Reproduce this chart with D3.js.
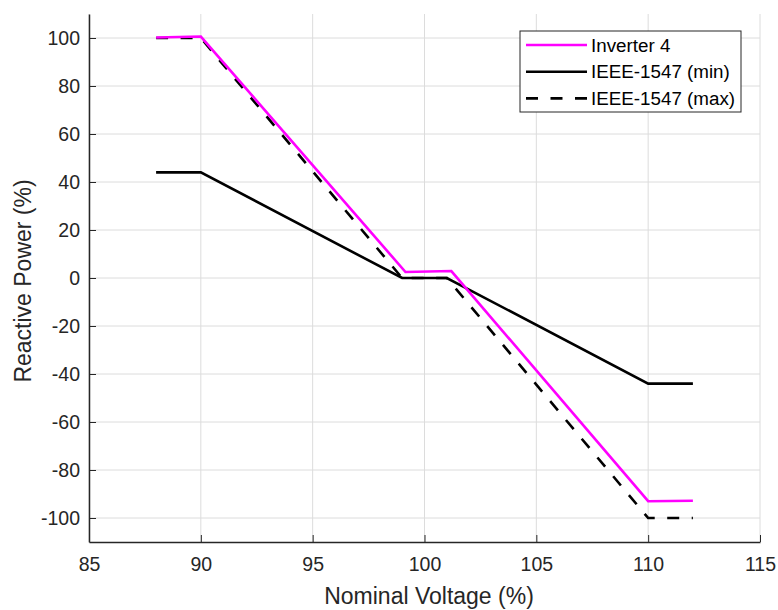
<!DOCTYPE html>
<html lang="en">
<head>
<meta charset="UTF-8">
<title>reactive power</title>
<script src="https://cdn.jsdelivr.net/npm/d3@7"></script>
<style>
  body { margin: 0; background: #fff; }
  svg { font-family: "Liberation Sans", Arial, sans-serif; }
</style>
</head>
<body>
<script>
// voltage (%) and reactive power (%) for each curve
let inverterV = [88, 90, 99.15, 101.2, 110, 112];
let inverterQ = [100.2, 100.6, 2.5, 2.9, -93, -92.8];
let minV = [88, 90, 99, 101, 110, 112];
let minQ = [44, 44, 0, 0, -44, -44];
let maxV = [88, 90, 99, 101, 110, 112];
let maxQ = [100, 100, 0, 0, -100, -100];

let xTicks = [85, 90, 95, 100, 105, 110, 115];
let yTicks = [-100, -80, -60, -40, -20, 0, 20, 40, 60, 80, 100];
let seriesNames = ["Inverter 4", "IEEE-1547 (min)", "IEEE-1547 (max)"];

let width = 778, height = 610;
let plotLeft = 89, plotRight = 760, plotTop = 14, plotBottom = 542;

let svg = d3.select("body").append("svg")
    .attr("width", width)
    .attr("height", height);

let x = d3.scaleLinear().domain([85, 115]).range([plotLeft, plotRight]);
let y = d3.scaleLinear().domain([-110, 110]).range([plotBottom, plotTop]);

// grid
let grid = svg.append("g").attr("stroke", "#dcdcdc").attr("stroke-width", 1);
grid.selectAll(".gx").data(xTicks).enter().append("line")
    .attr("x1", d => x(d)).attr("x2", d => x(d))
    .attr("y1", plotTop).attr("y2", plotBottom);
grid.selectAll(".gy").data(yTicks).enter().append("line")
    .attr("x1", plotLeft).attr("x2", plotRight)
    .attr("y1", d => y(d)).attr("y2", d => y(d));

// axes (plain hyphen for negatives, like the original)
let xAxis = d3.axisBottom(x).tickValues(xTicks).tickFormat(d => String(d))
    .tickSizeInner(-7).tickSizeOuter(0).tickPadding(15);
let yAxis = d3.axisLeft(y).tickValues(yTicks).tickFormat(d => String(d))
    .tickSizeInner(-7).tickSizeOuter(0).tickPadding(9);

let gx = svg.append("g").attr("transform", `translate(0,${plotBottom})`).call(xAxis);
let gy = svg.append("g").attr("transform", `translate(${plotLeft},0)`).call(yAxis);
[gx, gy].forEach(g => {
    g.select(".domain").attr("stroke", "#262626").attr("stroke-width", 1.5);
    g.selectAll(".tick line").attr("stroke", "#262626");
    g.selectAll(".tick text").attr("fill", "#262626").style("font-size", "19.5px");
});

// curves
let line = d3.line().x(d => x(d[0])).y(d => y(d[1]));
let series = [
    { pts: d3.zip(minV, minQ), color: "#000", dash: null },
    { pts: d3.zip(maxV, maxQ), color: "#000", dash: "12,12.5" },
    { pts: d3.zip(inverterV, inverterQ), color: "#ff00ff", dash: null }
];
series.forEach(s => {
    svg.append("path")
        .datum(s.pts)
        .attr("fill", "none")
        .attr("stroke", s.color)
        .attr("stroke-width", 2.6)
        .attr("stroke-dasharray", s.dash)
        .attr("d", line);
});

// axis labels
svg.append("text")
    .attr("x", 429).attr("y", 604)
    .attr("text-anchor", "middle")
    .attr("fill", "#262626")
    .style("font-size", "23px")
    .text("Nominal Voltage (%)");
svg.append("text")
    .attr("transform", `translate(31,281) rotate(-90)`)
    .attr("text-anchor", "middle")
    .attr("fill", "#262626")
    .style("font-size", "23px")
    .text("Reactive Power (%)");

// legend
let legend = svg.append("g").attr("transform", "translate(520,31)");
legend.append("rect")
    .attr("width", 221).attr("height", 81)
    .attr("fill", "#fff").attr("stroke", "#262626").attr("stroke-width", 1);
let legendStyle = [
    { color: "#ff00ff", dash: null },
    { color: "#000", dash: null },
    { color: "#000", dash: "12,12.5" }
];
seriesNames.forEach((name, i) => {
    let ly = 14 + i * 26.7;
    legend.append("line")
        .attr("x1", 6).attr("x2", 67)
        .attr("y1", ly).attr("y2", ly)
        .attr("stroke", legendStyle[i].color)
        .attr("stroke-width", 2.6)
        .attr("stroke-dasharray", legendStyle[i].dash);
    legend.append("text")
        .attr("x", 71).attr("y", ly + 6.5)
        .attr("fill", "#000")
        .style("font-size", "18.8px")
        .text(name);
});
</script>
</body>
</html>
